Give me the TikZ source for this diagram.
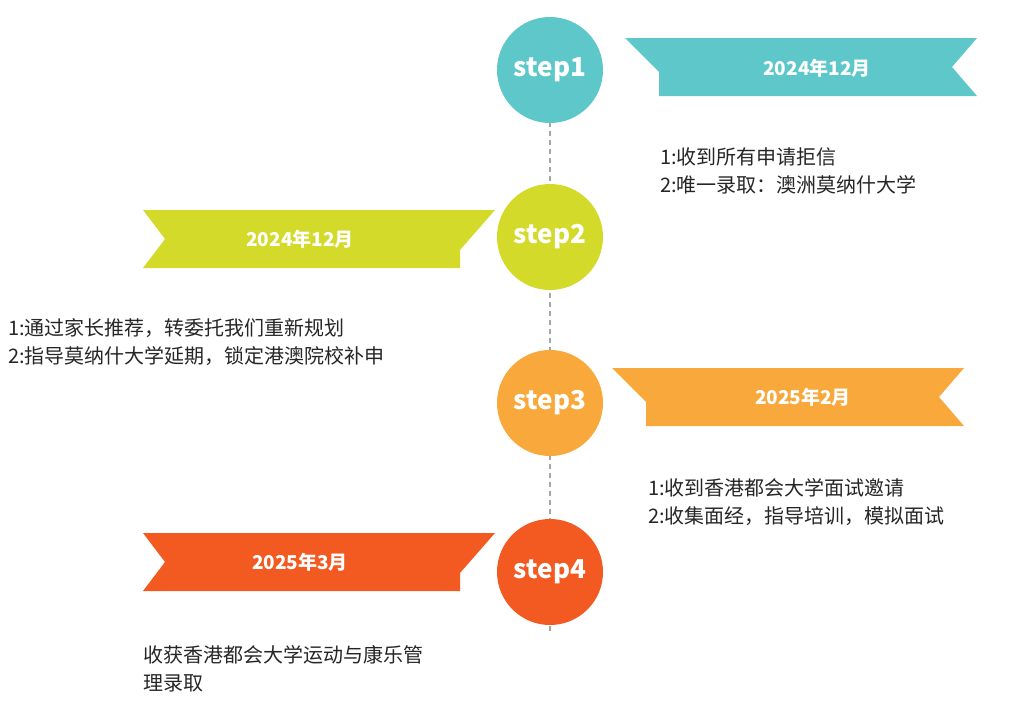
\documentclass[tikz,border=0pt]{standalone}
\usepackage{fontspec}
\setmainfont{Noto Sans CJK SC}
\begin{document}
\begin{tikzpicture}[x=1pt,y=-1pt,
  circ/.style={circle,minimum size=106pt,inner sep=0pt,text=white,font=\bfseries\fontsize{26}{26}\selectfont},
  date/.style={text=white,font=\bfseries\fontsize{19}{19}\selectfont},
  body/.style={anchor=north west,align=left,inner sep=0pt,text=black!85,font=\fontsize{20}{28.5}\selectfont}]
\useasboundingbox (0,0) rectangle (1012,720);
\definecolor{cA}{HTML}{5EC7CA}\definecolor{cB}{HTML}{D4DA2A}
\definecolor{cC}{HTML}{F9A83B}\definecolor{cD}{HTML}{F25A22}
\coordinate (top) at (550,122); \coordinate (bot) at (550,632);
\draw[gray!70,line width=1.5pt,dash pattern=on 5pt off 4pt] (top) -- (bot);
% banners
\fill[cA] (625,38)--(977,38)--(952,67)--(977,96)--(659,96)--(659,72)--cycle;
\fill[cB] (143,210)--(495,210)--(460,250)--(460,268)--(143,268)--(165,239)--cycle;
\fill[cC] (612,368)--(964,368)--(939,397)--(964,426)--(646,426)--(646,402)--cycle;
\fill[cD] (143,533)--(495,533)--(460,573)--(460,591)--(143,591)--(165,562)--cycle;
\node[date] (d1) at (817,68) {2024年12月};
\node[date] (d2) at (300,239) {2024年12月};
\node[date] (d3) at (803,397) {2025年2月};
\node[date] (d4) at (300,562) {2025年3月};
\node[circ,fill=cA] (s1) at (550,70) {step1};
\node[circ,fill=cB] (s2) at (550,237) {step2};
\node[circ,fill=cC] (s3) at (550,403) {step3};
\node[circ,fill=cD] (s4) at (550,572) {step4};
\node[body] (t1) at (660,147) {1:收到所有申请拒信\\2:唯一录取：澳洲莫纳什大学};
\node[body] (t2) at (8,318) {1:通过家长推荐，转委托我们重新规划\\2:指导莫纳什大学延期，锁定港澳院校补申};
\node[body] (t3) at (648,478) {1:收到香港都会大学面试邀请\\2:收集面经，指导培训，模拟面试};
\node[body] (t4) at (143,645) {收获香港都会大学运动与康乐管\\理录取};
\end{tikzpicture}
\end{document}
